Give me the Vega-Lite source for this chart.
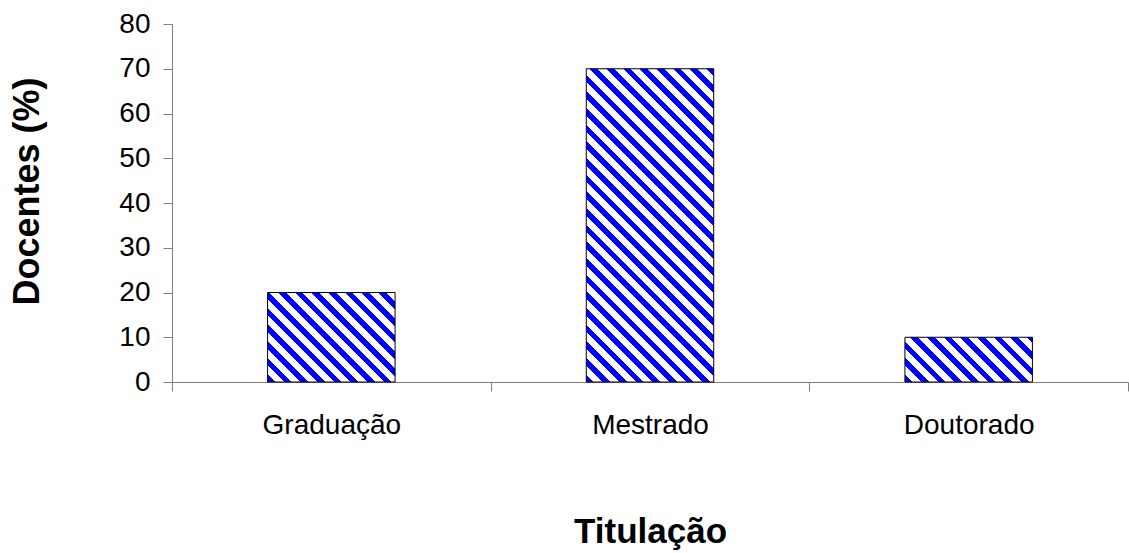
{
  "$schema": "https://vega.github.io/schema/vega-lite/v6.json",
  "autosize": "none",
  "width": 956,
  "height": 358,
  "padding": {"left": 172, "top": 24, "right": 1, "bottom": 171},
  "background": "white",
  "config": {
    "view": {"stroke": null},
    "font": "Liberation Sans"
  },
  "data": {"values": [
    {"titulacao": "Graduação", "docentes": 20},
    {"titulacao": "Mestrado", "docentes": 70},
    {"titulacao": "Doutorado", "docentes": 10}
  ]},
  "encoding": {
    "x": {
      "field": "titulacao", "type": "nominal",
      "sort": ["Graduação", "Mestrado", "Doutorado"],
      "scale": {"paddingInner": 0, "paddingOuter": 0},
      "axis": {
        "title": "Titulação", "labelAngle": 0,
        "labelFont": "Liberation Sans", "labelFontSize": 28, "labelColor": "black",
        "labelBaseline": "alphabetic", "labelPadding": 42,
        "tickBand": "extent", "tickSize": 9, "tickColor": "#7f7f7f", "tickWidth": 1,
        "domainColor": "#7f7f7f", "domainWidth": 1, "grid": false,
        "titleFont": "Liberation Sans", "titleFontSize": 35, "titleFontWeight": "bold", "titleColor": "black",
        "titleBaseline": "alphabetic", "titleX": 478, "titleY": 160, "titleAlign": "center"
      }
    },
    "y": {
      "field": "docentes", "type": "quantitative",
      "scale": {"domain": [0, 80], "nice": false},
      "axis": {
        "title": "Docentes (%)", "values": [0, 10, 20, 30, 40, 50, 60, 70, 80],
        "labelFont": "Liberation Sans", "labelFontSize": 28, "labelColor": "black",
        "labelPadding": 13, "labelBaseline": "middle",
        "tickSize": 9, "tickColor": "#7f7f7f", "tickWidth": 1,
        "domainColor": "#7f7f7f", "domainWidth": 1, "grid": false,
        "titleFont": "Liberation Sans", "titleFontSize": 36, "titleFontWeight": "bold", "titleColor": "black",
        "titleAngle": 270, "titleBaseline": "alphabetic", "titleAlign": "center",
        "titleX": -134, "titleY": 167
      }
    }
  },
  "layer": [
    {
      "transform": [{"filter": "datum.titulacao === 'Graduação'"}],
      "mark": {"type": "bar", "width": {"band": 0.4}, "stroke": "black", "strokeWidth": 1,
        "fill": {"gradient": "linear", "x1": 0, "y1": 1, "x2": 2.3645, "y2": -0.6598, "stops": [
{"offset":0,"color":"blue"},{"offset":0.016667,"color":"blue"},{"offset":0.016667,"color":"white"},{"offset":0.037037,"color":"white"},
{"offset":0.037037,"color":"blue"},{"offset":0.053704,"color":"blue"},{"offset":0.053704,"color":"white"},{"offset":0.074074,"color":"white"},
{"offset":0.074074,"color":"blue"},{"offset":0.090741,"color":"blue"},{"offset":0.090741,"color":"white"},{"offset":0.111111,"color":"white"},
{"offset":0.111111,"color":"blue"},{"offset":0.127778,"color":"blue"},{"offset":0.127778,"color":"white"},{"offset":0.148148,"color":"white"},
{"offset":0.148148,"color":"blue"},{"offset":0.164815,"color":"blue"},{"offset":0.164815,"color":"white"},{"offset":0.185185,"color":"white"},
{"offset":0.185185,"color":"blue"},{"offset":0.201852,"color":"blue"},{"offset":0.201852,"color":"white"},{"offset":0.222222,"color":"white"},
{"offset":0.222222,"color":"blue"},{"offset":0.238889,"color":"blue"},{"offset":0.238889,"color":"white"},{"offset":0.259259,"color":"white"},
{"offset":0.259259,"color":"blue"},{"offset":0.275926,"color":"blue"},{"offset":0.275926,"color":"white"},{"offset":0.296296,"color":"white"},
{"offset":0.296296,"color":"blue"},{"offset":0.312963,"color":"blue"},{"offset":0.312963,"color":"white"},{"offset":0.333333,"color":"white"},
{"offset":0.333333,"color":"blue"},{"offset":0.35,"color":"blue"},{"offset":0.35,"color":"white"},{"offset":0.37037,"color":"white"},
{"offset":0.37037,"color":"blue"},{"offset":0.387037,"color":"blue"},{"offset":0.387037,"color":"white"},{"offset":0.407407,"color":"white"},
{"offset":0.407407,"color":"blue"},{"offset":0.424074,"color":"blue"},{"offset":0.424074,"color":"white"},{"offset":0.444444,"color":"white"},
{"offset":0.444444,"color":"blue"},{"offset":0.461111,"color":"blue"},{"offset":0.461111,"color":"white"},{"offset":0.481481,"color":"white"},
{"offset":0.481481,"color":"blue"},{"offset":0.498148,"color":"blue"},{"offset":0.498148,"color":"white"},{"offset":0.518519,"color":"white"},
{"offset":0.518519,"color":"blue"},{"offset":0.535185,"color":"blue"},{"offset":0.535185,"color":"white"},{"offset":0.555556,"color":"white"},
{"offset":0.555556,"color":"blue"},{"offset":0.572222,"color":"blue"},{"offset":0.572222,"color":"white"},{"offset":0.592593,"color":"white"},
{"offset":0.592593,"color":"blue"},{"offset":0.609259,"color":"blue"},{"offset":0.609259,"color":"white"},{"offset":0.62963,"color":"white"},
{"offset":0.62963,"color":"blue"},{"offset":0.646296,"color":"blue"},{"offset":0.646296,"color":"white"},{"offset":0.666667,"color":"white"},
{"offset":0.666667,"color":"blue"},{"offset":0.683333,"color":"blue"},{"offset":0.683333,"color":"white"},{"offset":0.703704,"color":"white"},
{"offset":0.703704,"color":"blue"},{"offset":0.72037,"color":"blue"},{"offset":0.72037,"color":"white"},{"offset":0.740741,"color":"white"},
{"offset":0.740741,"color":"blue"},{"offset":0.757407,"color":"blue"},{"offset":0.757407,"color":"white"},{"offset":0.777778,"color":"white"},
{"offset":0.777778,"color":"blue"},{"offset":0.794444,"color":"blue"},{"offset":0.794444,"color":"white"},{"offset":0.814815,"color":"white"},
{"offset":0.814815,"color":"blue"},{"offset":0.831481,"color":"blue"},{"offset":0.831481,"color":"white"},{"offset":0.851852,"color":"white"},
{"offset":0.851852,"color":"blue"},{"offset":0.868519,"color":"blue"},{"offset":0.868519,"color":"white"},{"offset":0.888889,"color":"white"},
{"offset":0.888889,"color":"blue"},{"offset":0.905556,"color":"blue"},{"offset":0.905556,"color":"white"},{"offset":0.925926,"color":"white"},
{"offset":0.925926,"color":"blue"},{"offset":0.942593,"color":"blue"},{"offset":0.942593,"color":"white"},{"offset":0.962963,"color":"white"},
{"offset":0.962963,"color":"blue"},{"offset":0.97963,"color":"blue"},{"offset":0.97963,"color":"white"},{"offset":1,"color":"white"}
        ]}
      }
    },
    {
      "transform": [{"filter": "datum.titulacao === 'Mestrado'"}],
      "mark": {"type": "bar", "width": {"band": 0.4}, "stroke": "black", "strokeWidth": 1,
        "fill": {"gradient": "linear", "x1": 0, "y1": 1, "x2": 0.50161, "y2": -0.23238, "stops": [
{"offset":0,"color":"blue"},{"offset":0.016667,"color":"blue"},{"offset":0.016667,"color":"white"},{"offset":0.037037,"color":"white"},
{"offset":0.037037,"color":"blue"},{"offset":0.053704,"color":"blue"},{"offset":0.053704,"color":"white"},{"offset":0.074074,"color":"white"},
{"offset":0.074074,"color":"blue"},{"offset":0.090741,"color":"blue"},{"offset":0.090741,"color":"white"},{"offset":0.111111,"color":"white"},
{"offset":0.111111,"color":"blue"},{"offset":0.127778,"color":"blue"},{"offset":0.127778,"color":"white"},{"offset":0.148148,"color":"white"},
{"offset":0.148148,"color":"blue"},{"offset":0.164815,"color":"blue"},{"offset":0.164815,"color":"white"},{"offset":0.185185,"color":"white"},
{"offset":0.185185,"color":"blue"},{"offset":0.201852,"color":"blue"},{"offset":0.201852,"color":"white"},{"offset":0.222222,"color":"white"},
{"offset":0.222222,"color":"blue"},{"offset":0.238889,"color":"blue"},{"offset":0.238889,"color":"white"},{"offset":0.259259,"color":"white"},
{"offset":0.259259,"color":"blue"},{"offset":0.275926,"color":"blue"},{"offset":0.275926,"color":"white"},{"offset":0.296296,"color":"white"},
{"offset":0.296296,"color":"blue"},{"offset":0.312963,"color":"blue"},{"offset":0.312963,"color":"white"},{"offset":0.333333,"color":"white"},
{"offset":0.333333,"color":"blue"},{"offset":0.35,"color":"blue"},{"offset":0.35,"color":"white"},{"offset":0.37037,"color":"white"},
{"offset":0.37037,"color":"blue"},{"offset":0.387037,"color":"blue"},{"offset":0.387037,"color":"white"},{"offset":0.407407,"color":"white"},
{"offset":0.407407,"color":"blue"},{"offset":0.424074,"color":"blue"},{"offset":0.424074,"color":"white"},{"offset":0.444444,"color":"white"},
{"offset":0.444444,"color":"blue"},{"offset":0.461111,"color":"blue"},{"offset":0.461111,"color":"white"},{"offset":0.481481,"color":"white"},
{"offset":0.481481,"color":"blue"},{"offset":0.498148,"color":"blue"},{"offset":0.498148,"color":"white"},{"offset":0.518519,"color":"white"},
{"offset":0.518519,"color":"blue"},{"offset":0.535185,"color":"blue"},{"offset":0.535185,"color":"white"},{"offset":0.555556,"color":"white"},
{"offset":0.555556,"color":"blue"},{"offset":0.572222,"color":"blue"},{"offset":0.572222,"color":"white"},{"offset":0.592593,"color":"white"},
{"offset":0.592593,"color":"blue"},{"offset":0.609259,"color":"blue"},{"offset":0.609259,"color":"white"},{"offset":0.62963,"color":"white"},
{"offset":0.62963,"color":"blue"},{"offset":0.646296,"color":"blue"},{"offset":0.646296,"color":"white"},{"offset":0.666667,"color":"white"},
{"offset":0.666667,"color":"blue"},{"offset":0.683333,"color":"blue"},{"offset":0.683333,"color":"white"},{"offset":0.703704,"color":"white"},
{"offset":0.703704,"color":"blue"},{"offset":0.72037,"color":"blue"},{"offset":0.72037,"color":"white"},{"offset":0.740741,"color":"white"},
{"offset":0.740741,"color":"blue"},{"offset":0.757407,"color":"blue"},{"offset":0.757407,"color":"white"},{"offset":0.777778,"color":"white"},
{"offset":0.777778,"color":"blue"},{"offset":0.794444,"color":"blue"},{"offset":0.794444,"color":"white"},{"offset":0.814815,"color":"white"},
{"offset":0.814815,"color":"blue"},{"offset":0.831481,"color":"blue"},{"offset":0.831481,"color":"white"},{"offset":0.851852,"color":"white"},
{"offset":0.851852,"color":"blue"},{"offset":0.868519,"color":"blue"},{"offset":0.868519,"color":"white"},{"offset":0.888889,"color":"white"},
{"offset":0.888889,"color":"blue"},{"offset":0.905556,"color":"blue"},{"offset":0.905556,"color":"white"},{"offset":0.925926,"color":"white"},
{"offset":0.925926,"color":"blue"},{"offset":0.942593,"color":"blue"},{"offset":0.942593,"color":"white"},{"offset":0.962963,"color":"white"},
{"offset":0.962963,"color":"blue"},{"offset":0.97963,"color":"blue"},{"offset":0.97963,"color":"white"},{"offset":1,"color":"white"}
        ]}
      }
    },
    {
      "transform": [{"filter": "datum.titulacao === 'Doutorado'"}],
      "mark": {"type": "bar", "width": {"band": 0.4}, "stroke": "black", "strokeWidth": 1,
        "fill": {"gradient": "linear", "x1": 0, "y1": 1, "x2": 3.1424, "y2": -0.10291, "stops": [
{"offset":0,"color":"blue"},{"offset":0.016667,"color":"blue"},{"offset":0.016667,"color":"white"},{"offset":0.037037,"color":"white"},
{"offset":0.037037,"color":"blue"},{"offset":0.053704,"color":"blue"},{"offset":0.053704,"color":"white"},{"offset":0.074074,"color":"white"},
{"offset":0.074074,"color":"blue"},{"offset":0.090741,"color":"blue"},{"offset":0.090741,"color":"white"},{"offset":0.111111,"color":"white"},
{"offset":0.111111,"color":"blue"},{"offset":0.127778,"color":"blue"},{"offset":0.127778,"color":"white"},{"offset":0.148148,"color":"white"},
{"offset":0.148148,"color":"blue"},{"offset":0.164815,"color":"blue"},{"offset":0.164815,"color":"white"},{"offset":0.185185,"color":"white"},
{"offset":0.185185,"color":"blue"},{"offset":0.201852,"color":"blue"},{"offset":0.201852,"color":"white"},{"offset":0.222222,"color":"white"},
{"offset":0.222222,"color":"blue"},{"offset":0.238889,"color":"blue"},{"offset":0.238889,"color":"white"},{"offset":0.259259,"color":"white"},
{"offset":0.259259,"color":"blue"},{"offset":0.275926,"color":"blue"},{"offset":0.275926,"color":"white"},{"offset":0.296296,"color":"white"},
{"offset":0.296296,"color":"blue"},{"offset":0.312963,"color":"blue"},{"offset":0.312963,"color":"white"},{"offset":0.333333,"color":"white"},
{"offset":0.333333,"color":"blue"},{"offset":0.35,"color":"blue"},{"offset":0.35,"color":"white"},{"offset":0.37037,"color":"white"},
{"offset":0.37037,"color":"blue"},{"offset":0.387037,"color":"blue"},{"offset":0.387037,"color":"white"},{"offset":0.407407,"color":"white"},
{"offset":0.407407,"color":"blue"},{"offset":0.424074,"color":"blue"},{"offset":0.424074,"color":"white"},{"offset":0.444444,"color":"white"},
{"offset":0.444444,"color":"blue"},{"offset":0.461111,"color":"blue"},{"offset":0.461111,"color":"white"},{"offset":0.481481,"color":"white"},
{"offset":0.481481,"color":"blue"},{"offset":0.498148,"color":"blue"},{"offset":0.498148,"color":"white"},{"offset":0.518519,"color":"white"},
{"offset":0.518519,"color":"blue"},{"offset":0.535185,"color":"blue"},{"offset":0.535185,"color":"white"},{"offset":0.555556,"color":"white"},
{"offset":0.555556,"color":"blue"},{"offset":0.572222,"color":"blue"},{"offset":0.572222,"color":"white"},{"offset":0.592593,"color":"white"},
{"offset":0.592593,"color":"blue"},{"offset":0.609259,"color":"blue"},{"offset":0.609259,"color":"white"},{"offset":0.62963,"color":"white"},
{"offset":0.62963,"color":"blue"},{"offset":0.646296,"color":"blue"},{"offset":0.646296,"color":"white"},{"offset":0.666667,"color":"white"},
{"offset":0.666667,"color":"blue"},{"offset":0.683333,"color":"blue"},{"offset":0.683333,"color":"white"},{"offset":0.703704,"color":"white"},
{"offset":0.703704,"color":"blue"},{"offset":0.72037,"color":"blue"},{"offset":0.72037,"color":"white"},{"offset":0.740741,"color":"white"},
{"offset":0.740741,"color":"blue"},{"offset":0.757407,"color":"blue"},{"offset":0.757407,"color":"white"},{"offset":0.777778,"color":"white"},
{"offset":0.777778,"color":"blue"},{"offset":0.794444,"color":"blue"},{"offset":0.794444,"color":"white"},{"offset":0.814815,"color":"white"},
{"offset":0.814815,"color":"blue"},{"offset":0.831481,"color":"blue"},{"offset":0.831481,"color":"white"},{"offset":0.851852,"color":"white"},
{"offset":0.851852,"color":"blue"},{"offset":0.868519,"color":"blue"},{"offset":0.868519,"color":"white"},{"offset":0.888889,"color":"white"},
{"offset":0.888889,"color":"blue"},{"offset":0.905556,"color":"blue"},{"offset":0.905556,"color":"white"},{"offset":0.925926,"color":"white"},
{"offset":0.925926,"color":"blue"},{"offset":0.942593,"color":"blue"},{"offset":0.942593,"color":"white"},{"offset":0.962963,"color":"white"},
{"offset":0.962963,"color":"blue"},{"offset":0.97963,"color":"blue"},{"offset":0.97963,"color":"white"},{"offset":1,"color":"white"}
        ]}
      }
    }
  ]
}
